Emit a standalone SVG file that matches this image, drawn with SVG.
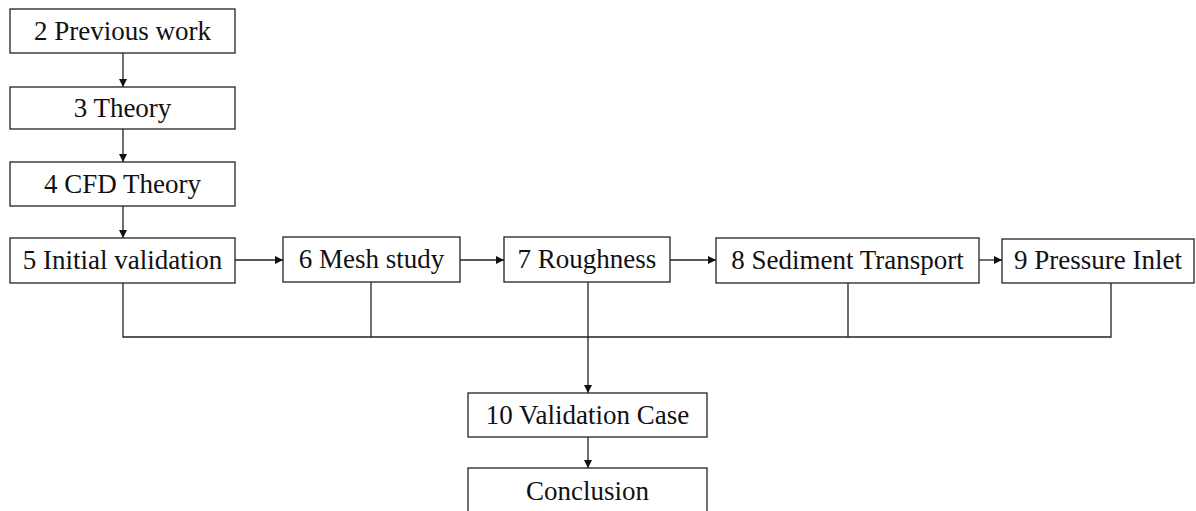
<svg xmlns="http://www.w3.org/2000/svg" width="1196" height="511" viewBox="0 0 1196 511">
<style>
.box{fill:#fff;stroke:#222;stroke-width:1.3}
.t{font-family:"Liberation Serif","Times New Roman",serif;font-size:27px;fill:#111;text-anchor:middle}
.c{fill:none;stroke:#222;stroke-width:1.3}
</style>
<defs>
<marker id="ah" viewBox="0 0 10 10" refX="10" refY="5" markerWidth="8" markerHeight="8" markerUnits="userSpaceOnUse" orient="auto">
<path d="M0,0 L10,5 L0,10 z" fill="#111"/>
</marker>
</defs>
<rect width="1196" height="511" fill="#fff"/>
<g id="connectors">
<line class="c" x1="123" y1="53" x2="123" y2="87" marker-end="url(#ah)"/>
<line class="c" x1="123" y1="129" x2="123" y2="162" marker-end="url(#ah)"/>
<line class="c" x1="123" y1="206" x2="123" y2="238" marker-end="url(#ah)"/>
<line class="c" x1="235" y1="260" x2="283" y2="260" marker-end="url(#ah)"/>
<line class="c" x1="460" y1="260" x2="504" y2="260" marker-end="url(#ah)"/>
<line class="c" x1="670" y1="260" x2="716" y2="260" marker-end="url(#ah)"/>
<line class="c" x1="979" y1="260" x2="1002" y2="260" marker-end="url(#ah)"/>
<polyline class="c" points="123,283 123,337 1111,337 1111,283"/>
<line class="c" x1="371" y1="282" x2="371" y2="337"/>
<line class="c" x1="848" y1="283" x2="848" y2="337"/>
<line class="c" x1="588" y1="282" x2="588" y2="393" marker-end="url(#ah)"/>
<line class="c" x1="588" y1="437" x2="588" y2="468" marker-end="url(#ah)"/>
</g>
<g id="n2"><rect class="box" x="10" y="9" width="225" height="44"/><text class="t" x="122.5" y="40">2 Previous work</text></g>
<g id="n3"><rect class="box" x="10" y="87" width="225" height="42"/><text class="t" x="122.5" y="117">3 Theory</text></g>
<g id="n4"><rect class="box" x="10" y="162" width="225" height="44"/><text class="t" x="122.5" y="193">4 CFD Theory</text></g>
<g id="n5"><rect class="box" x="10" y="238" width="225" height="45"/><text class="t" x="122.5" y="269">5 Initial validation</text></g>
<g id="n6"><rect class="box" x="283" y="237" width="177" height="45"/><text class="t" x="371.5" y="268">6 Mesh study</text></g>
<g id="n7"><rect class="box" x="504" y="237" width="166" height="45"/><text class="t" x="587" y="268">7 Roughness</text></g>
<g id="n8"><rect class="box" x="716" y="238" width="263" height="45"/><text class="t" x="847.5" y="269">8 Sediment Transport</text></g>
<g id="n9"><rect class="box" x="1002" y="239" width="192" height="44"/><text class="t" x="1098" y="269">9 Pressure Inlet</text></g>
<g id="n10"><rect class="box" x="468" y="393" width="239" height="44"/><text class="t" x="587.5" y="424">10 Validation Case</text></g>
<g id="n11"><rect class="box" x="468" y="468" width="239" height="50"/><text class="t" x="587.5" y="500">Conclusion</text></g>
</svg>
